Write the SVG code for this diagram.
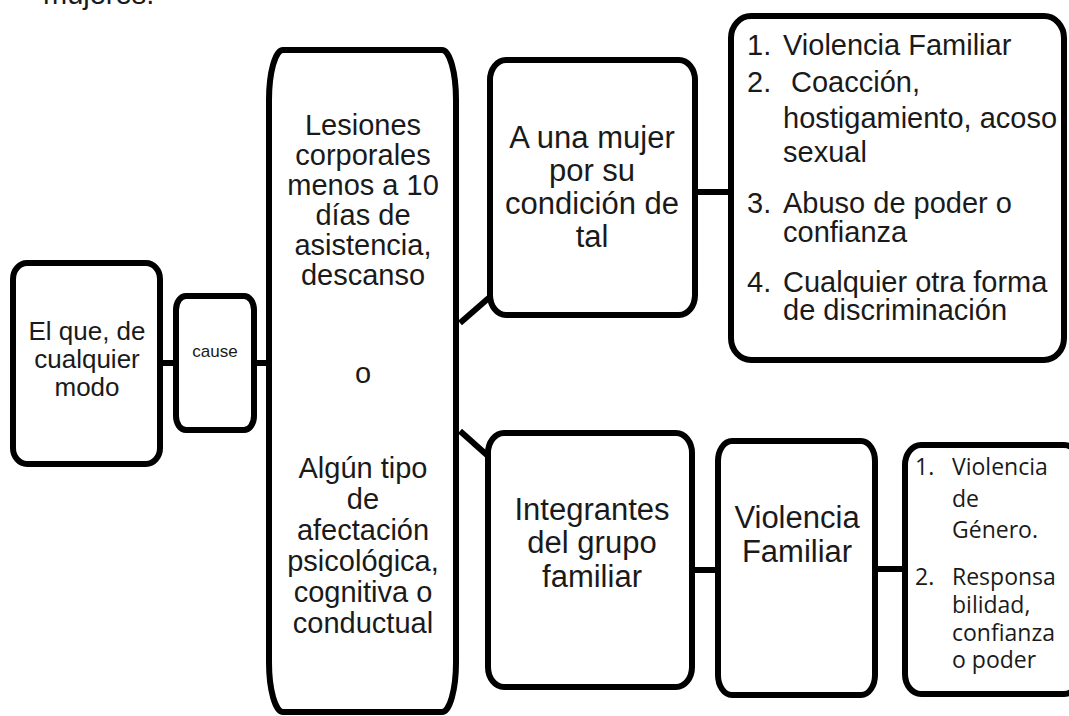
<svg xmlns="http://www.w3.org/2000/svg" width="1069" height="716" viewBox="0 0 1069 716">
<style>
.box{fill:#fff;stroke:#000;stroke-width:6}
.con{stroke:#000;stroke-width:6;fill:none}
.t{font-family:"Liberation Sans",Arial,sans-serif;fill:#1a1a1a;text-anchor:middle}
.l{font-family:"Liberation Sans",Arial,sans-serif;fill:#1a1a1a;font-size:29px}
.o{font-family:"Open Sans","Noto Sans",sans-serif;fill:#1a1a1a;font-size:23px}
</style>
<rect width="1069" height="716" fill="#fff"/>
<text x="43" y="4" class="l" style="font-size:29px">mujeres.</text>
<g id="connectors">
<line class="con" x1="160" y1="363" x2="176" y2="363"/>
<line class="con" x1="254" y1="363" x2="269" y2="363"/>
<line class="con" x1="460" y1="323" x2="491" y2="296"/>
<line class="con" x1="460" y1="431" x2="488" y2="456"/>
<line class="con" x1="695" y1="192" x2="731" y2="192"/>
<line class="con" x1="692" y1="570" x2="718" y2="570"/>
<line class="con" x1="875" y1="569" x2="905" y2="569"/>
</g>
<g id="n1">
<rect class="box" x="13" y="263" width="147" height="201" rx="14" ry="16"/>
<text class="t" font-size="26" x="87"><tspan x="87" y="340">El que, de</tspan><tspan x="87" y="368">cualquier</tspan><tspan x="87" y="396">modo</tspan></text>
</g>
<g id="n2">
<rect class="box" x="176" y="296" width="78" height="134" rx="10" ry="14"/>
<text class="t" font-size="17" x="215" y="357">cause</text>
</g>
<g id="n3">
<rect class="box" x="269" y="50" width="187" height="662" rx="14" ry="50"/>
<text class="t" font-size="29"><tspan x="363" y="135">Lesiones</tspan><tspan x="363" y="165">corporales</tspan><tspan x="363" y="195">menos a 10</tspan><tspan x="363" y="225">días de</tspan><tspan x="363" y="255">asistencia,</tspan><tspan x="363" y="285">descanso</tspan></text>
<text class="t" font-size="29" x="363" y="383">o</text>
<text class="t" font-size="29"><tspan x="363" y="478">Algún tipo</tspan><tspan x="363" y="509">de</tspan><tspan x="363" y="540">afectación</tspan><tspan x="363" y="571">psicológica,</tspan><tspan x="363" y="602">cognitiva o</tspan><tspan x="363" y="633">conductual</tspan></text>
</g>
<g id="n4">
<rect class="box" x="490" y="60" width="205" height="255" rx="16" ry="20"/>
<text class="t" font-size="31"><tspan x="592" y="148">A una mujer</tspan><tspan x="592" y="181">por su</tspan><tspan x="592" y="214">condición de</tspan><tspan x="592" y="247">tal</tspan></text>
</g>
<g id="n5">
<rect class="box" x="731" y="16" width="333" height="344" rx="20" ry="22"/>
<text class="l"><tspan x="747" y="55">1.</tspan><tspan x="783" y="55">Violencia Familiar</tspan>
<tspan x="747" y="92">2.</tspan><tspan x="791" y="92">Coacción,</tspan>
<tspan x="783" y="128">hostigamiento, acoso</tspan>
<tspan x="783" y="162">sexual</tspan>
<tspan x="747" y="213">3.</tspan><tspan x="783" y="213">Abuso de poder o</tspan>
<tspan x="783" y="242">confianza</tspan>
<tspan x="747" y="292">4.</tspan><tspan x="783" y="292">Cualquier otra forma</tspan>
<tspan x="783" y="320">de discriminación</tspan></text>
</g>
<g id="n6">
<rect class="box" x="488" y="433" width="204" height="254" rx="16" ry="20"/>
<text class="t" font-size="31"><tspan x="592" y="520">Integrantes</tspan><tspan x="592" y="553">del grupo</tspan><tspan x="592" y="587">familiar</tspan></text>
</g>
<g id="n7">
<rect class="box" x="718" y="441" width="157" height="254" rx="14" ry="20"/>
<text class="t" font-size="31"><tspan x="797" y="528">Violencia</tspan><tspan x="797" y="562">Familiar</tspan></text>
</g>
<g id="n8">
<rect class="box" x="905" y="445" width="175" height="249" rx="16" ry="20"/>
<text class="o"><tspan x="915" y="475">1.</tspan><tspan x="952" y="475">Violencia</tspan>
<tspan x="952" y="507">de</tspan>
<tspan x="952" y="538">Género.</tspan>
<tspan x="915" y="585">2.</tspan><tspan x="952" y="585">Responsa</tspan>
<tspan x="952" y="613">bilidad,</tspan>
<tspan x="952" y="641">confianza</tspan>
<tspan x="952" y="668">o poder</tspan></text>
</g>
</svg>
